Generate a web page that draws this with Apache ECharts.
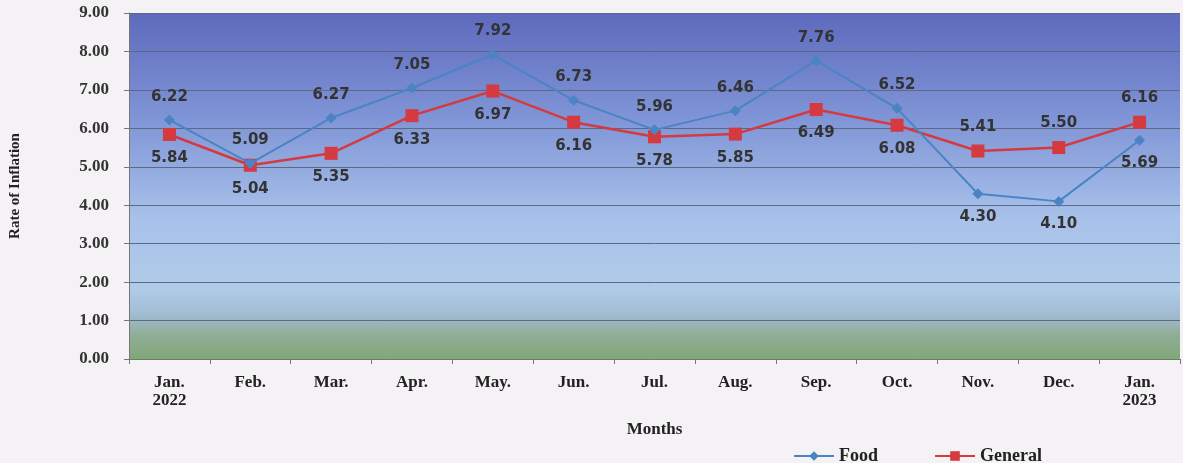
<!DOCTYPE html>
<html>
<head>
<meta charset="utf-8">
<script src="https://cdn.jsdelivr.net/npm/echarts@6/dist/echarts.min.js"></script>
<style>
  html, body { margin: 0; padding: 0; background: #f4f2f4; }
  #main { width: 1183px; height: 463px; }
</style>
</head>
<body>
<div id="main"></div>
<script>
var months = ['Jan.\n2022', 'Feb.', 'Mar.', 'Apr.', 'May.', 'Jun.', 'Jul.', 'Aug.', 'Sep.', 'Oct.', 'Nov.', 'Dec.', 'Jan.\n2023'];
var food = [6.22, 5.09, 6.27, 7.05, 7.92, 6.73, 5.96, 6.46, 7.76, 6.52, 4.30, 4.10, 5.69];
var general = [5.84, 5.04, 5.35, 6.33, 6.97, 6.16, 5.78, 5.85, 6.49, 6.08, 5.41, 5.50, 6.16];

var serif = '"Liberation Serif", "DejaVu Serif", serif';
var sans = '"DejaVu Sans", Verdana, sans-serif';

// the higher line gets its label above, the lower one below
function withLabels(vals, other) {
    return vals.map(function (v, i) {
        return { value: v, label: { position: v >= other[i] ? 'top' : 'bottom' } };
    });
}

var mainChart = echarts.init(document.getElementById('main'));

var chartOpt = {
    backgroundColor: '#f4f2f4',
    animation: false,
    grid: {
        left: 128, right: 3, top: 13, bottom: 104,
        show: true,
        borderWidth: 0,
        backgroundColor: new echarts.graphic.LinearGradient(0, 0, 0, 1, [
            { offset: 0, color: '#5e6abd' },
            { offset: 0.3, color: '#7f94d6' },
            { offset: 0.6, color: '#a8c2ea' },
            { offset: 0.8, color: '#b0cbe8' },
            { offset: 0.87, color: '#a2bcd2' },
            { offset: 0.93, color: '#90ad98' },
            { offset: 1, color: '#80a876' }
        ])
    },
    legend: {
        left: 788, top: 442,
        itemWidth: 40, itemHeight: 12, itemGap: 56,
        textStyle: { fontFamily: serif, fontWeight: 'bold', fontSize: 18, color: '#222' },
        data: ['Food', 'General']
    },
    xAxis: {
        type: 'category',
        data: months,
        name: 'Months',
        nameLocation: 'middle',
        nameGap: 62,
        nameTextStyle: { fontFamily: serif, fontWeight: 'bold', fontSize: 17, color: '#222' },
        axisLine: { lineStyle: { color: '#777' } },
        axisTick: { show: true, lineStyle: { color: '#777' } },
        axisLabel: { fontFamily: serif, fontWeight: 'bold', fontSize: 17, color: '#222', margin: 15, lineHeight: 18 }
    },
    yAxis: {
        type: 'value',
        min: 0, max: 9, interval: 1,
        name: 'Rate of Inflation',
        nameLocation: 'middle',
        nameGap: 106,
        nameTextStyle: { fontFamily: serif, fontWeight: 'bold', fontSize: 15, color: '#222' },
        axisLine: { show: true, lineStyle: { color: '#777' } },
        axisTick: { show: true, lineStyle: { color: '#777' } },
        splitLine: { lineStyle: { color: '#5d6884', width: 1 } },
        axisLabel: {
            fontFamily: serif, fontWeight: 'bold', fontSize: 17, color: '#333', margin: 20,
            formatter: function (v) { return v.toFixed(2); }
        }
    },
    series: [
        {
            name: 'Food',
            type: 'line',
            data: withLabels(food, general),
            symbol: 'diamond',
            symbolSize: 11,
            itemStyle: { color: '#4a84c4' },
            lineStyle: { color: '#4a84c4', width: 2 },
            label: {
                show: true, distance: 10,
                fontFamily: sans, fontWeight: 'bold', fontSize: 15, color: '#333',
                formatter: function (p) { return p.value.toFixed(2); }
            },
            z: 3
        },
        {
            name: 'General',
            type: 'line',
            data: withLabels(general, food),
            symbol: 'rect',
            symbolSize: 13,
            itemStyle: { color: '#d43a40' },
            lineStyle: { color: '#d43a40', width: 2.5 },
            label: {
                show: true, distance: 10,
                fontFamily: sans, fontWeight: 'bold', fontSize: 15, color: '#333',
                formatter: function (p) { return p.value.toFixed(2); }
            },
            z: 2
        }
    ]
};

mainChart.setOption(chartOpt);
</script>
</body>
</html>
